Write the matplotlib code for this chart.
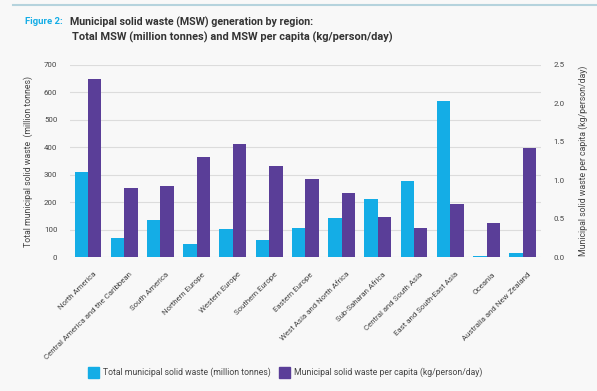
import matplotlib
matplotlib.use("Agg")
import matplotlib.pyplot as plt
import matplotlib.transforms as mtransforms
import numpy as np
from matplotlib.lines import Line2D
from matplotlib.patches import Patch

regions = [
    "North America", "Central America and the Caribbean", "South America",
    "Northern Europe", "Western Europe", "Southern Europe", "Eastern Europe",
    "West Asia and North Africa", "Sub-Saharan Africa", "Central and South Asia",
    "East and South-East Asia", "Oceania", "Australia and New Zealand",
]
total_msw = [312, 69, 134, 47, 102, 63, 106, 144, 211, 278, 570, 5, 15]
msw_per_capita = [2.32, 0.90, 0.93, 1.30, 1.47, 1.18, 1.02, 0.83, 0.52, 0.38, 0.69, 0.45, 1.42]
left_ticks = [0, 100, 200, 300, 400, 500, 600, 700]
right_ticks = [0.0, 0.5, 1.0, 1.5, 2.0, 2.5]

CYAN = "#14ade6"
PURPLE = "#5a3e98"
BG = "#f8f8f8"
TXT = "#444444"

plt.rcParams["font.family"] = ["Roboto", "DejaVu Sans"]

fig = plt.figure(figsize=(5.97, 3.91), dpi=100, facecolor=BG)
ax = fig.add_axes([0.117, 0.342, 0.789, 0.492])
ax.set_facecolor(BG)
ax2 = ax.twinx()

x = np.arange(len(regions))
w = 0.37
ax.bar(x - w / 2, total_msw, width=w, color=CYAN, zorder=3)
ax2.bar(x + w / 2, msw_per_capita, width=w, color=PURPLE, zorder=3)

ax.set_xlim(-0.5, len(regions) - 0.5)
ax.set_ylim(0, 700)
ax2.set_ylim(0, 2.5)
ax.set_yticks(left_ticks)
ax.set_yticklabels([str(t) for t in left_ticks])
ax2.set_yticks(right_ticks)
ax2.set_yticklabels([f"{t:.1f}" for t in right_ticks])
ax.yaxis.grid(True, color="#dcdcdc", lw=0.8, zorder=0)
ax.set_axisbelow(True)

for a in (ax, ax2):
    for s in a.spines.values():
        s.set_visible(False)
    a.tick_params(length=0, labelsize=5.7, colors=TXT)
ax.tick_params(axis="y", pad=9)
ax2.tick_params(axis="y", pad=9)

ax.set_xticks(x)
ax.set_xticklabels(regions, rotation=45, ha="right", rotation_mode="anchor", fontsize=5.7)
ax.tick_params(axis="x", pad=10)
shift = mtransforms.ScaledTranslation(5 / 100, 0, fig.dpi_scale_trans)
for lbl in ax.get_xticklabels():
    lbl.set_transform(lbl.get_transform() + shift)

ax.set_ylabel("Total municipal solid waste  (million tonnes)", fontsize=6.3, color=TXT, labelpad=8)
ax2.set_ylabel("Municipal solid waste per capita (kg/person/day)", fontsize=6.3, color=TXT, labelpad=10)

handles = [
    Patch(color=CYAN, label="Total municipal solid waste (million tonnes)"),
    Patch(color=PURPLE, label="Municipal solid waste per capita (kg/person/day)"),
]
fig.legend(handles=handles, loc="center", bbox_to_anchor=(0.478, 0.048), ncol=2,
           frameon=False, fontsize=6.2, handlelength=1.2, handleheight=1.6,
           columnspacing=1.0, handletextpad=0.5, labelcolor=TXT)

# header
fig.add_artist(Line2D([0.022, 1.0], [0.987, 0.987], color="#b5d3dd", lw=1.5))
fig.text(0.042, 0.944, "Figure 2:", color=CYAN, fontsize=6.8, fontweight="bold", va="center")
fig.text(0.117, 0.944, "Municipal solid waste (MSW) generation by region:",
         color="#333333", fontsize=7.7, fontweight="bold", va="center")
fig.text(0.120, 0.905, "Total MSW (million tonnes) and MSW per capita (kg/person/day)",
         color="#333333", fontsize=7.9, fontweight="bold", va="center")

fig.savefig("out.png", dpi=100, facecolor=BG)
